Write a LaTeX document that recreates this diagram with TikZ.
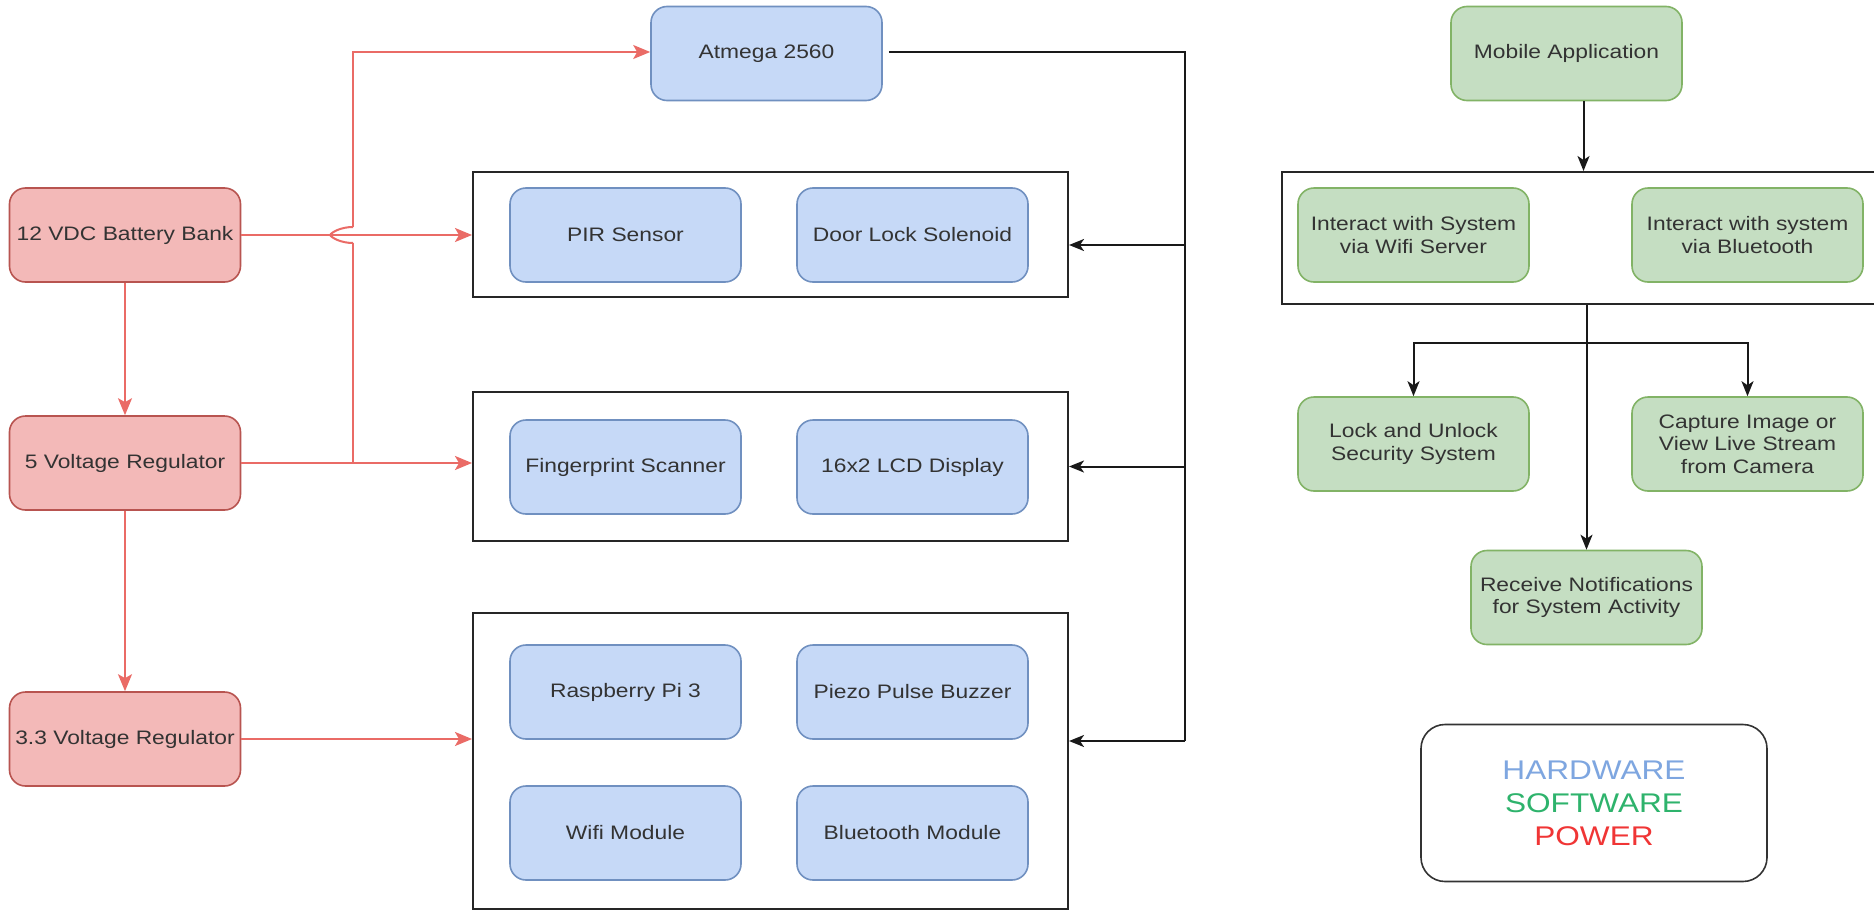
\documentclass[tikz,border=0pt]{standalone}
\usepackage{fontspec}
\newfontfamily\dfont[FakeStretch=1.17]{Liberation Sans}
\usetikzlibrary{arrows.meta}
\definecolor{hwfill}{HTML}{C6D9F7}
\definecolor{hwdraw}{HTML}{7090C0}
\definecolor{pwfill}{HTML}{F3B9B8}
\definecolor{pwdraw}{HTML}{B85450}
\definecolor{swfill}{HTML}{C5DEC2}
\definecolor{swdraw}{HTML}{82B366}
\definecolor{redline}{HTML}{EA6B66}
\definecolor{txt}{HTML}{333333}
\definecolor{lghw}{HTML}{7EA6E0}
\definecolor{lgsw}{HTML}{2EB36C}
\definecolor{lgpw}{HTML}{F03535}
\tikzset{
  boxbase/.style={rounded corners=16pt, line width=1.6pt, minimum width=231pt, minimum height=94pt,
    align=center, text=txt, inner sep=0pt, font={\dfont\fontsize{19.5}{22.5}\selectfont}},
  hwbox/.style={boxbase, fill=hwfill, draw=hwdraw},
  pwbox/.style={boxbase, fill=pwfill, draw=pwdraw},
  swbox/.style={boxbase, fill=swfill, draw=swdraw},
  grpbox/.style={draw=black!85, line width=2pt, inner sep=0pt},
  blkline/.style={draw=black!90, line width=2pt},
  blkarrow/.style={blkline, -{Stealth[length=15pt,width=12pt,inset=4pt]}},
  redl/.style={draw=redline, line width=2pt},
  redarrow/.style={redl, -{Stealth[length=17pt,width=14pt,inset=4pt]}},
}
\begin{document}
\begin{tikzpicture}[x=1pt,y=-1pt]
\clip (0,0) rectangle (1874,910);
\fill[white] (0,0) rectangle (1874,910);

% power column
\node[pwbox] (bat) at (125,235) {12 VDC Battery Bank};
\node[pwbox] (v5) at (125,463) {5 Voltage Regulator};
\node[pwbox] (v33) at (125,739) {3.3 Voltage Regulator};

% hardware
\node[hwbox] (atm) at (766.5,53.5) {Atmega 2560};

\node[grpbox, minimum width=595pt, minimum height=125pt] (g1) at (770.5,234.5) {};
\node[hwbox] (pir) at (625.5,235) {PIR Sensor};
\node[hwbox] (door) at (912.5,235) {Door Lock Solenoid};

\node[grpbox, minimum width=595pt, minimum height=149pt] (g2) at (770.5,466.5) {};
\node[hwbox] (fp) at (625.5,467) {Fingerprint Scanner};
\node[hwbox] (lcd) at (912.5,467) {16x2 LCD Display};

\node[grpbox, minimum width=595pt, minimum height=296pt] (g3) at (770.5,761) {};
\node[hwbox] (rpi) at (625.5,692) {Raspberry Pi 3};
\node[hwbox] (piezo) at (912.5,692) {Piezo Pulse Buzzer};
\node[hwbox] (wifi) at (625.5,833) {Wifi Module};
\node[hwbox] (bt) at (912.5,833) {Bluetooth Module};

% software
\node[swbox] (mob) at (1566.5,53.5) {Mobile Application};
\node[grpbox, minimum width=600pt, minimum height=132pt] (sg) at (1582,238) {};
\node[swbox] (iwifi) at (1413.5,235) {Interact with System\\via Wifi Server};
\node[swbox] (ibt) at (1747.5,235) {Interact with system\\via Bluetooth};
\node[swbox] (lock) at (1413.5,444) {Lock and Unlock\\Security System};
\node[swbox] (cap) at (1747.5,444) {Capture Image or\\View Live Stream\\from Camera};
\node[swbox] (rn) at (1586.5,597.5) {Receive Notifications\\for System Activity};

% legend
\node[draw=black!80, line width=1.6pt, rounded corners=24pt, minimum width=346pt, minimum height=157pt,
  align=center, inner sep=0pt, font={\dfont\fontsize{27}{33}\selectfont}] (legend) at (1594,803)
  {\textcolor{lghw}{HARDWARE}\\\textcolor{lgsw}{SOFTWARE}\\\textcolor{lgpw}{POWER}};

% black bus
\coordinate (bustop) at (1185,52);
\coordinate (busbot) at (1185,741);
\draw[blkline] ([xshift=6pt]atm.east |- bustop) -- (bustop) -- (busbot);
\draw[blkarrow] (bustop |- 0,245) -- (g1.east |- 0,245);
\draw[blkarrow] (bustop |- g2.east) -- (g2.east);
\draw[blkarrow] (busbot) -- (busbot -| g3.east);

% red power lines
\draw[redarrow] (bat.south) -- (v5.north);
\draw[redarrow] (v5.south) -- (v33.north);
\draw[redarrow] (bat.east) -- (bat.east -| g1.west);
\draw[redarrow] (v5.east) -- (v5.east -| g2.west);
\draw[redarrow] (v33.east) -- (v33.east -| g3.west);
\coordinate (jn) at (353,463);
\coordinate (jtop) at (353,52);
\coordinate (hoplo) at (353,243);
\coordinate (hophi) at (353,227);
\draw[redl] (jn) -- (hoplo);
\draw[redl] (hoplo) .. controls (341,243) and (332,238) .. (330,235) .. controls (332,232) and (341,227) .. (hophi);
\draw[redarrow] (hophi) -- (jtop) -- (jtop -| atm.west);

% software connectors
\draw[blkarrow] ([xshift=17pt]mob.south) -- ([xshift=17pt]mob.south |- sg.north);
\coordinate (br) at (rn.north |- 0,343);
\draw[blkarrow] (rn.north |- sg.south) -- (rn.north);
\draw[blkarrow] (br) -| (lock.north);
\draw[blkarrow] (br) -| (cap.north);
\end{tikzpicture}
\end{document}
